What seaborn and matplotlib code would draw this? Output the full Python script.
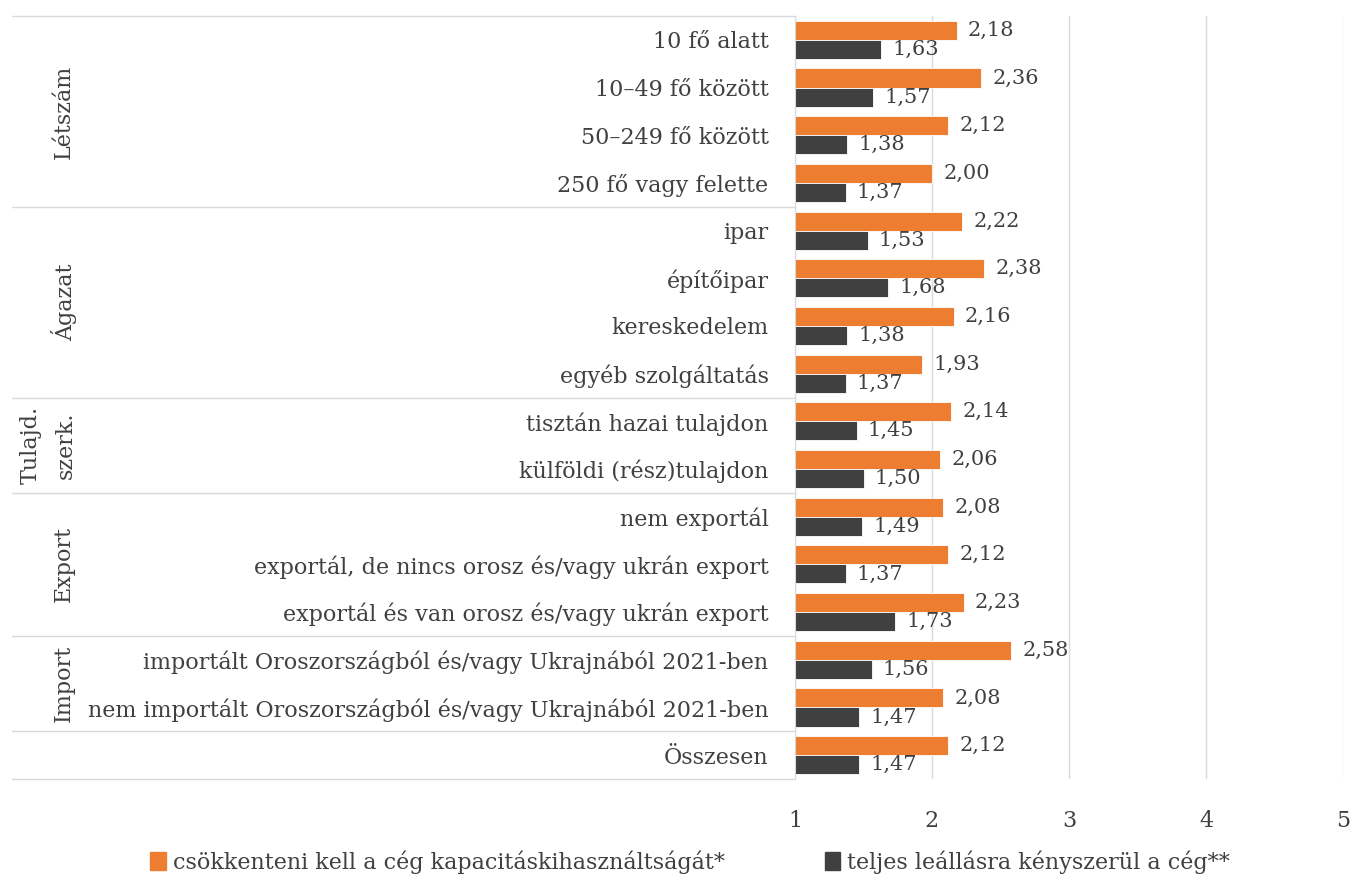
import pandas as pd
import matplotlib
matplotlib.use('Agg')
import matplotlib.pyplot as plt
import seaborn as sns

CATEGORIES = [
    '10 fő alatt', '10–49 fő között', '50–249 fő között', '250 fő vagy felette',
    'ipar', 'építőipar', 'kereskedelem', 'egyéb szolgáltatás',
    'tisztán hazai tulajdon', 'külföldi (rész)tulajdon',
    'nem exportál', 'exportál, de nincs orosz és/vagy ukrán export',
    'exportál és van orosz és/vagy ukrán export',
    'importált Oroszországból és/vagy Ukrajnából 2021-ben',
    'nem importált Oroszországból és/vagy Ukrajnából 2021-ben',
    'Összesen',
]
SERIES = ['csökkenteni kell a cég kapacitáskihasználtságát*',
          'teljes leállásra kényszerül a cég**']
REDUCE = [2.18, 2.36, 2.12, 2.00, 2.22, 2.38, 2.16, 1.93, 2.14, 2.06,
          2.08, 2.12, 2.23, 2.58, 2.08, 2.12]
SHUTDOWN = [1.63, 1.57, 1.38, 1.37, 1.53, 1.68, 1.38, 1.37, 1.45, 1.50,
            1.49, 1.37, 1.73, 1.56, 1.47, 1.47]
# group label, number of rows in the group
GROUPS = [('Létszám', 4), ('Ágazat', 4), ('Tulajd.\nszerk.', 2),
          ('Export', 3), ('Import', 2), ('', 1)]
X_TICKS = [1, 2, 3, 4, 5]

COLORS = ['#ED7D31', '#404040']
TEXT = '#404040'
LINE = '#D9D9D9'

sns.set_style('white')
plt.rcParams['font.family'] = ['DejaVu Serif', 'DejaVu Sans']

df = pd.DataFrame({
    'cat': CATEGORIES * 2,
    'series': [SERIES[0]] * len(CATEGORIES) + [SERIES[1]] * len(CATEGORIES),
    'val': REDUCE + SHUTDOWN,
})

W, H = 1354, 886
fig = plt.figure(figsize=(W / 100, H / 100), dpi=100)
ax = fig.add_axes([795 / W, 1 - 779 / H, 548 / W, 763 / H])

sns.barplot(data=df, y='cat', x='val', hue='series', orient='h',
            palette=COLORS, saturation=1, width=0.8, ax=ax, legend=False,
            edgecolor='white', linewidth=0.6)

ax.set_xlim(1, 5)
ax.set_ylim(len(CATEGORIES) - 0.5, -0.5)
ax.set_xticks(X_TICKS)
ax.set_xticklabels([str(t) for t in X_TICKS], fontsize=16, color=TEXT)
ax.tick_params(axis='x', length=0, pad=22)
ax.tick_params(axis='y', length=0, pad=19, labelsize=16, labelcolor=TEXT)
ax.set_xlabel('')
ax.set_ylabel('')
ax.grid(axis='x', color=LINE, linewidth=1)
ax.grid(axis='y', visible=False)
for s in ['top', 'right', 'bottom']:
    ax.spines[s].set_visible(False)
ax.spines['left'].set_color(LINE)

for cont in ax.containers:
    ax.bar_label(cont, labels=[f'{v:.2f}'.replace('.', ',') for v in cont.datavalues],
                 padding=8, fontsize=15, color=TEXT)

# left-hand table: separators and group labels
tr = ax.get_yaxis_transform()
x0 = (12 - 795) / 548
start = -0.5
ax.plot([x0, 0], [start, start], transform=tr, color=LINE, lw=1, clip_on=False)
for name, n in GROUPS:
    end = start + n
    ax.plot([x0, 0], [end, end], transform=tr, color=LINE, lw=1, clip_on=False)
    if name:
        xc = (48 - 795) / 548 if '\n' in name else (64 - 795) / 548
        ax.text(xc, (start + end) / 2, name, transform=tr, rotation=90,
                ha='center', va='center', multialignment='center',
                fontsize=16, color=TEXT, linespacing=1.75)
    start = end

handles = [plt.Rectangle((0, 0), 1, 1, color=c) for c in COLORS]
fig.legend(handles, SERIES, loc='center', bbox_to_anchor=(690 / W, 1 - 862 / H),
           ncol=2, frameon=False, fontsize=16, handlelength=0.7, handleheight=0.9,
           handletextpad=0.3, columnspacing=4.5, labelcolor=TEXT)

fig.savefig('out.png', dpi=100)
